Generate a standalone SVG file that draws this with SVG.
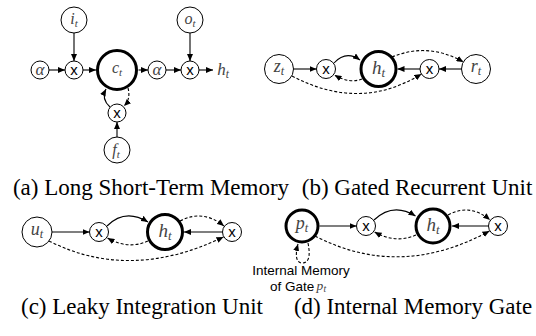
<svg xmlns="http://www.w3.org/2000/svg" width="536" height="336" viewBox="0 0 536 336">
<style>
.n{fill:#fff;stroke:#000;stroke-width:1}
.k{fill:#fff;stroke:#000;stroke-width:3}
.e{fill:none;stroke:#000;stroke-width:1.1;marker-end:url(#ah)}
.d{stroke-dasharray:3,2}
.m{font-family:'Liberation Serif','Times New Roman',serif;font-style:italic;fill:#444;text-anchor:middle}
.s{font-size:0.68em}
.x{font-family:'Liberation Sans',Arial,sans-serif;font-size:15px;fill:#000;text-anchor:middle}
.cap{font-family:'Liberation Serif','Times New Roman',serif;font-size:23px;fill:#000;text-anchor:middle}
.lb{font-family:'Liberation Sans',Arial,sans-serif;font-size:13.5px;fill:#000}
.ms{font-family:'Liberation Serif','Times New Roman',serif;font-style:italic;fill:#444}
</style>
<defs>
<marker id="ah" viewBox="0 0 7 6" refX="7" refY="3" markerWidth="7" markerHeight="6" markerUnits="userSpaceOnUse" orient="auto">
<path d="M0,0 L7,3 L0,6 z" fill="#000"/>
</marker>
</defs>

<g id="connectors">
<path class="e" d="M49,70 L65,70"/>
<path class="e" d="M83,70 L96,70"/>
<path class="e" d="M138.5,70 L148,70"/>
<path class="e" d="M166,70 L181,70"/>
<path class="e" d="M199,70 L213,70"/>
<path class="e" d="M74,33 L74,61"/>
<path class="e" d="M190,33 L190,61"/>
<path class="e" d="M117,137 L117,122"/>
<path class="e" d="M110,107 Q101,99 106,89"/>
<path class="e d" d="M128,88 Q131,99 124,106"/>
<path class="e" d="M293.5,69 L316.5,69"/>
<path class="e" d="M334,63 Q346,50 360,60"/>
<path class="e d" d="M362,79 Q350,84 334.5,75"/>
<path class="e d" d="M392,57 Q428,42 463.5,62"/>
<path class="e" d="M461.5,69 L439,69"/>
<path class="e" d="M420,69 L397.5,69"/>
<path class="e d" d="M292,76 Q360,112 421.5,74"/>
<path class="e" d="M52,232 L89.5,232"/>
<path class="e" d="M107,226 Q125,208 148,222"/>
<path class="e d" d="M148,241 Q128,250 107.5,238"/>
<path class="e d" d="M180,221 Q203,209 224,226"/>
<path class="e" d="M222.5,232 L184,232"/>
<path class="e d" d="M49,241 Q130,282 223.5,237"/>
<path class="e" d="M319.5,226 L356.5,226"/>
<path class="e" d="M374,220 Q393,202 415.5,216"/>
<path class="e d" d="M416,235 Q396,244 374.5,232"/>
<path class="e d" d="M448,215 Q470,203 490,220"/>
<path class="e" d="M488.5,226 L452,226"/>
<path class="e d" d="M315,236 Q400,280 489.5,231"/>
<path class="e d" d="M308,243 C311,258 308,263 302,263 C296,263 295,255 298,244"/>
</g>

<g id="a_alpha1"><circle class="n" cx="40" cy="70" r="9"/><text class="m" x="40" y="75" font-size="17">α</text></g>
<g id="a_x1"><circle class="n" cx="74" cy="70" r="9"/><text class="x" x="74" y="75">x</text></g>
<g id="a_it"><circle class="n" cx="74" cy="20" r="13"/><text class="m" x="74" y="24" font-size="16">i<tspan class="s" dy="3">t</tspan></text></g>
<g id="a_ct"><circle class="k" cx="117" cy="70" r="19.5"/><text class="m" x="117" y="73" font-size="16">c<tspan class="s" dy="3">t</tspan></text></g>
<g id="a_alpha2"><circle class="n" cx="157" cy="70" r="9"/><text class="m" x="157" y="75" font-size="17">α</text></g>
<g id="a_x2"><circle class="n" cx="190" cy="70" r="9"/><text class="x" x="190" y="75">x</text></g>
<g id="a_ot"><circle class="n" cx="190" cy="20" r="13"/><text class="m" x="190" y="24" font-size="16">o<tspan class="s" dy="3">t</tspan></text></g>
<g id="a_ht"><text class="m" x="223" y="75" font-size="17">h<tspan class="s" dy="3">t</tspan></text></g>
<g id="a_x3"><circle class="n" cx="117" cy="113" r="9"/><text class="x" x="117" y="118">x</text></g>
<g id="a_ft"><circle class="n" cx="117" cy="150" r="13"/><text class="m" x="116" y="155" font-size="16">f<tspan class="s" dy="3">t</tspan></text></g>

<g id="b_zt"><circle class="n" cx="279" cy="69" r="14.5"/><text class="m" x="279" y="72" font-size="18">z<tspan class="s" dy="3">t</tspan></text></g>
<g id="b_x1"><circle class="n" cx="326" cy="69" r="9.5"/><text class="x" x="326" y="74">x</text></g>
<g id="b_ht"><circle class="k" cx="378.5" cy="69" r="17.5"/><text class="m" x="378.5" y="74" font-size="19">h<tspan class="s" dy="3">t</tspan></text></g>
<g id="b_x2"><circle class="n" cx="429.5" cy="69" r="9.5"/><text class="x" x="429.5" y="74">x</text></g>
<g id="b_rt"><circle class="n" cx="476" cy="69" r="14.5"/><text class="m" x="476" y="72" font-size="18">r<tspan class="s" dy="3">t</tspan></text></g>

<g id="c_ut"><circle class="n" cx="37" cy="232" r="15"/><text class="m" x="37" y="235" font-size="18">u<tspan class="s" dy="3">t</tspan></text></g>
<g id="c_x1"><circle class="n" cx="99" cy="232" r="9.5"/><text class="x" x="99" y="237">x</text></g>
<g id="c_ht"><circle class="k" cx="165" cy="232" r="17.5"/><text class="m" x="165" y="237" font-size="19">h<tspan class="s" dy="3">t</tspan></text></g>
<g id="c_x2"><circle class="n" cx="232" cy="232" r="9.5"/><text class="x" x="232" y="237">x</text></g>

<g id="d_pt"><circle class="k" cx="302" cy="226" r="16"/><text class="m" x="302" y="229" font-size="18">p<tspan class="s" dy="3">t</tspan></text></g>
<g id="d_x1"><circle class="n" cx="366" cy="226" r="9.5"/><text class="x" x="366" y="231">x</text></g>
<g id="d_ht"><circle class="k" cx="433" cy="226" r="17"/><text class="m" x="433" y="231" font-size="19">h<tspan class="s" dy="3">t</tspan></text></g>
<g id="d_x2"><circle class="n" cx="498" cy="226" r="9.5"/><text class="x" x="498" y="231">x</text></g>
<g id="d_label">
<text class="lb" x="301" y="275" text-anchor="middle">Internal Memory</text>
<text class="lb" x="270" y="290.5">of Gate</text>
<text class="ms" x="316.5" y="290" font-size="13.5">p</text>
<text class="ms" x="323.5" y="291.5" font-size="9.5">t</text>
</g>

<g id="captions">
<text class="cap" x="151" y="195">(a) Long Short-Term Memory</text>
<text class="cap" x="417" y="195">(b) Gated Recurrent Unit</text>
<text class="cap" x="142" y="314">(c) Leaky Integration Unit</text>
<text class="cap" x="413" y="314">(d) Internal Memory Gate</text>
</g>
</svg>
